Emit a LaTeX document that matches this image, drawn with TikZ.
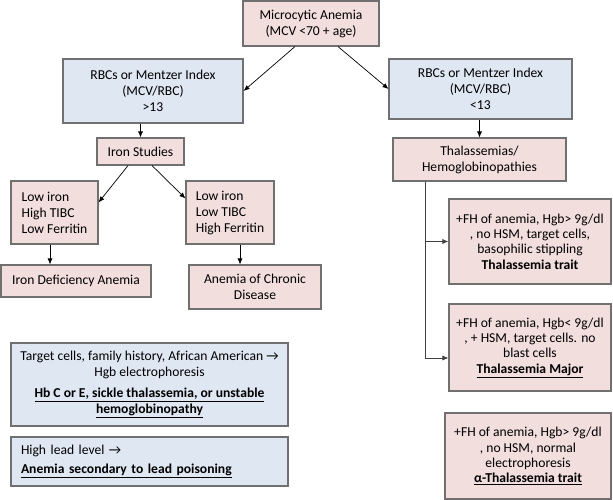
\documentclass[tikz,border=0pt]{standalone}
\usepackage{fontspec}
\setmainfont{Carlito}
\usetikzlibrary{arrows.meta, positioning, calc}

\definecolor{pinkfill}{HTML}{F2DEDD}
\definecolor{bluefill}{HTML}{DFE7F2}
\definecolor{boxgray}{HTML}{707070}

\begin{document}
\begin{tikzpicture}[
    x=1pt, y=-1pt,
    >={Latex[length=6pt, width=5pt]},
    font=\fontsize{13.6}{16}\selectfont,
    % box styles
    pinkbox/.style={rectangle, draw=boxgray, fill=pinkfill, line width=1.1pt, align=center, inner sep=0pt},
    bluebox/.style={rectangle, draw=boxgray, fill=bluefill, line width=1.1pt, align=center, inner sep=0pt},
    leftbox/.style={align=left, text width=#1},
    flow/.style={->, line width=0.7pt, black}
]
\useasboundingbox (0,0) rectangle (613,500);

% -------------------------
% top and the two index boxes
% -------------------------
\node[pinkbox, minimum width=136pt, minimum height=45pt] (micro) at (311,23.5) {Microcytic Anemia\\(MCV <70 + age)};

\node[bluebox, minimum width=180pt, minimum height=64pt] (lblue) at (153,91) {RBCs or Mentzer Index\\(MCV/RBC)\\>13};
\node[bluebox, minimum width=183pt, minimum height=60pt] (rblue) at (480.5,89) {RBCs or Mentzer Index\\(MCV/RBC)\\<13};

\draw[flow] ($(micro.south)+(-16,0)$) -- (lblue.east);
\draw[flow] ($(micro.south)+(27,0)$) -- (rblue.west);

% -------------------------
% left branch (iron)
% -------------------------
\node[pinkbox, minimum width=87pt, minimum height=27pt] (iron) at (140.5,151.5) {Iron Studies};

\node[pinkbox, align=left, minimum width=87pt, minimum height=63pt] (lowl) at (54.5,212.5) {Low iron\\High TIBC\\Low Ferritin};
\node[pinkbox, align=left, minimum width=88pt, minimum height=63pt] (lowr) at (230,212.5) {Low iron\\Low TIBC\\High Ferritin};

\node[pinkbox, minimum width=150pt, minimum height=32pt] (ida) at (76,281) {Iron Deficiency Anemia};
\node[pinkbox, minimum width=132pt, minimum height=44pt] (acd) at (255,287) {Anemia of Chronic\\Disease};

\draw[flow] (lblue.south -| iron.north) -- (iron.north);
\draw[flow] ($(iron.south)+(-12.5,0)$) -- ($(lowl.east)+(0,-10)$);
\draw[flow] ($(iron.south)+(11.5,0)$) -- ($(lowr.west)+(0,-14)$);
\draw[flow] ($(lowl.south)+(-4.5,0)$) -- ($(ida.north)+(-26,0)$);
\draw[flow] ($(lowr.south)+(10,0)$) -- ($(acd.north)+(-15,0)$);

% other causes
\node[bluebox, minimum width=277pt, minimum height=83pt] (target) at (149.5,384.5) {Target cells, family history, African American →\\Hgb electrophoresis\\[5pt]\underline{\textbf{Hb C or E, sickle thalassemia, or unstable}}\\\underline{\textbf{hemoglobinopathy}}};
\node[bluebox, leftbox=257pt, minimum width=277pt, minimum height=49pt] (lead) at (149.5,461.5) {High lead level →\\[3pt]\underline{\textbf{Anemia secondary to lead poisoning}}};

% -------------------------
% right branch (thalassemias)
% -------------------------
\node[pinkbox, minimum width=173pt, minimum height=43pt] (thal) at (479.5,159.5) {Thalassemias/\\Hemoglobinopathies};

\node[pinkbox, minimum width=162pt, minimum height=85pt, font=\fontsize{13.6}{15.3}\selectfont] (trait) at (530,241.5) {+FH of anemia, Hgb> 9g/dl\\, no HSM, target cells,\\basophilic stippling\\\textbf{Thalassemia trait}};
\node[pinkbox, minimum width=162pt, minimum height=87pt, font=\fontsize{13.6}{15.3}\selectfont] (major) at (530,347.5) {+FH of anemia, Hgb< 9g/dl\\, + HSM, target cells. no\\blast cells\\\underline{\textbf{Thalassemia Major}}};
\node[pinkbox, minimum width=166pt, minimum height=86pt, font=\fontsize{13.6}{15.3}\selectfont] (alpha) at (528,456) {+FH of anemia, Hgb> 9g/dl\\, no HSM, normal\\electrophoresis\\\underline{\textbf{α-Thalassemia trait}}};

\draw[flow] (rblue.south -| thal.north) -- (thal.north);
\coordinate (split) at ($(thal.south west)+(33,0)$);
\draw[flow, draw=black!75] (split) |- (trait.west);
\draw[flow, draw=black!75] (split) |- ($(major.west)+(0,10.5)$);

\end{tikzpicture}
\end{document}
